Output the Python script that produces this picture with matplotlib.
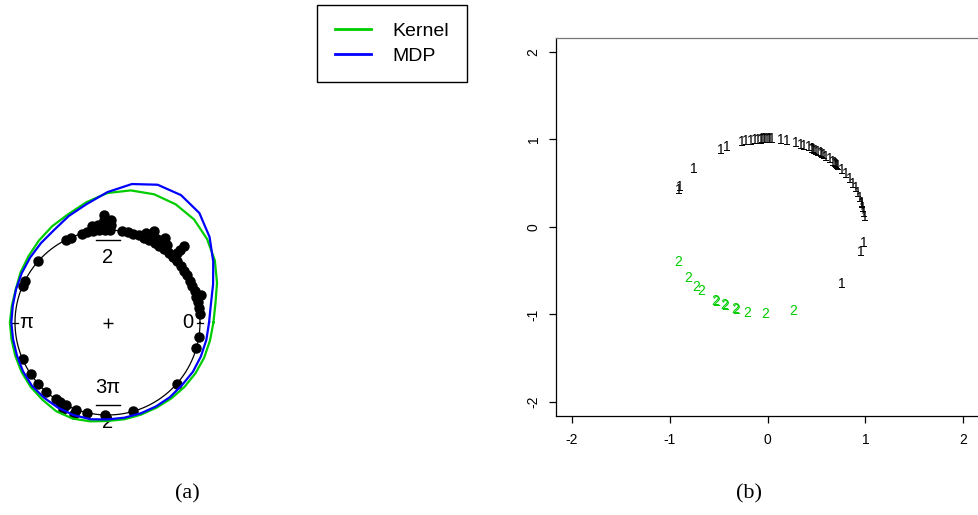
import numpy as np
import matplotlib.pyplot as plt
from matplotlib.lines import Line2D

plt.rcParams["font.family"] = ["Liberation Sans", "DejaVu Sans"]

cluster1_deg = [153, 155, 138.8, 118.2, 114.4, 105, 102.6, 100, 97.5, 95.8,
                94.2, 93.5, 92.2, 91.5, 90.6, 89.5, 88.6, 87.5, 82.3, 78.4,
                73, 70, 68, 65, 63.3, 62.5, 61.5, 60.5, 59.3, 57, 56, 55.1,
                53.4, 50.6, 48, 46.5, 45.6, 45, 43.8, 40.7, 37, 33.3, 29.6,
                26, 22.4, 19, 15.6, 15, 12.2, 9, 6.5, -10.5, -17, -41]
cluster2_deg = [204, 215.5, 223, 227, 237.5, 238.5, 243.5, 244.5, 250.5,
                251.5, 258, 268.5, 285]

# density curves of panel (a): radius at each angle
curve_deg = [0, 10, 20, 30, 40, 50, 60, 70, 80, 90, 100, 110, 120, 130, 140,
             150, 160, 170, 180, 190, 200, 210, 220, 230, 240, 250, 260, 270,
             280, 290, 300, 310, 320, 330, 340, 350]
kernel_r = [1.145, 1.185, 1.26, 1.34, 1.405, 1.455, 1.475, 1.475, 1.45, 1.40,
            1.32, 1.245, 1.2, 1.155, 1.115, 1.085, 1.055, 1.05, 1.055,
            1.054, 1.06, 1.072, 1.084, 1.092, 1.108, 1.105, 1.085, 1.065,
            1.062, 1.06, 1.062, 1.072, 1.085, 1.098, 1.112, 1.125]
mdp_r = [1.098, 1.135, 1.215, 1.32, 1.44, 1.545, 1.59, 1.585, 1.52, 1.41,
         1.30, 1.225, 1.155, 1.12, 1.092, 1.07, 1.052, 1.04, 1.04, 1.037,
         1.042, 1.055, 1.066, 1.064, 1.065, 1.066, 1.062, 1.048, 1.045, 1.046,
         1.048, 1.052, 1.052, 1.066, 1.074, 1.085]

axis_ticks = [-2, -1, 0, 1, 2]

GREEN = "#00CD00"
BLUE = "#0000FF"
W, H = 979, 515


def polar_xy(deg, r):
    t = np.radians(np.asarray(deg, dtype=float))
    return np.asarray(r) * np.cos(t), np.asarray(r) * np.sin(t)


def stacked_points(deg, bins=100, step=0.055):
    # bin the directions and pile repeated bins outward, like a stacked circular plot
    arc = 360.0 / bins
    counts = {}
    angs, rads = [], []
    for a in sorted(np.mod(deg, 360)):
        b = int(a // arc)
        k = counts.get(b, 0)
        counts[b] = k + 1
        angs.append((b + 0.5) * arc)
        rads.append(1 + k * step)
    return polar_xy(angs, rads)


def closed_curve(deg, r):
    x, y = polar_xy(deg, r)
    return np.append(x, x[0]), np.append(y, y[0])


fig = plt.figure(figsize=(W / 100, H / 100), dpi=100)

# ---------- panel (a): circular plot ----------
cx, cy, R = 107.5, 322.5, 92.5
left, right, top, bottom = 0, 300, 100, 480
ax_a = fig.add_axes([left / W, 1 - bottom / H, (right - left) / W, (bottom - top) / H])
ax_a.set_xlim((left - cx) / R, (right - cx) / R)
ax_a.set_ylim((cy - bottom) / R, (cy - top) / R)
ax_a.axis("off")

t = np.linspace(0, 2 * np.pi, 400)
ax_a.plot(np.cos(t), np.sin(t), color="black", lw=0.9, zorder=1)
for a in [0, 90, 180, 270]:
    tx, ty = polar_xy([a, a], [0.97, 1.03])
    ax_a.plot(tx, ty, color="black", lw=0.9, zorder=1)
ax_a.plot(0, 0, marker="+", ms=7, mew=1, color="black", zorder=1)

lab_kw = dict(fontsize=14.5, ha="center", va="center", zorder=2)
ax_a.text(0.87, 0, "0", **lab_kw)
ax_a.text(-0.88, 0, "π", **lab_kw)
for sign, num in [(1, "π"), (-1, "3π")]:
    yc = sign * 0.89
    ax_a.text(0.005, yc + 0.19, num, **lab_kw)
    ax_a.text(0.005, yc - 0.19, "2", **lab_kw)
    ax_a.plot([-0.12, 0.13], [yc, yc], color="black", lw=1, zorder=2)

px, py = stacked_points(cluster1_deg + cluster2_deg)
ax_a.plot(px, py, "o", color="black", ms=6.5, zorder=3)

kx, ky = closed_curve(curve_deg, kernel_r)
mx, my = closed_curve(curve_deg, mdp_r)
ax_a.plot(kx, ky, color=GREEN, lw=1.6, zorder=4)
ax_a.plot(mx, my, color=BLUE, lw=1.6, zorder=5)

handles = [Line2D([], [], color=GREEN, lw=2), Line2D([], [], color=BLUE, lw=2)]
leg = fig.legend(handles, ["Kernel", "MDP"], loc="upper left",
                 bbox_to_anchor=(317 / W, 1 - 5 / H), fontsize=14,
                 frameon=True, fancybox=False, framealpha=1, edgecolor="black",
                 borderpad=0.9, labelspacing=0.36, handlelength=1.9,
                 handletextpad=1.1, borderaxespad=0)
leg.get_frame().set_linewidth(1)

# ---------- panel (b): cluster labels ----------
bl, br, bt, bb = 556, 979, 37.7, 416
ax_b = fig.add_axes([bl / W, 1 - bb / H, (br - bl) / W, (bb - bt) / H])
ax_b.set_xlim(-2.16, 2.16)
ax_b.set_ylim(-2.16, 2.16)

x1, y1 = polar_xy(cluster1_deg, np.ones(len(cluster1_deg)))
x2, y2 = polar_xy(cluster2_deg, np.ones(len(cluster2_deg)))
for x, y in zip(x1, y1):
    ax_b.text(x, y, "1", fontsize=10, color="black", ha="center", va="center")
for x, y in zip(x2, y2):
    ax_b.text(x, y, "2", fontsize=10, color=GREEN, ha="center", va="center")

ax_b.set_xticks(axis_ticks)
ax_b.set_yticks(axis_ticks)
ax_b.set_xticklabels([str(v) for v in axis_ticks])
ax_b.set_yticklabels([str(v) for v in axis_ticks], rotation=90, va="center")
ax_b.tick_params(direction="out", length=5, width=0.9, labelsize=10)
ax_b.tick_params(axis="x", pad=7)
ax_b.tick_params(axis="y", pad=6)
ax_b.spines["right"].set_visible(False)
ax_b.spines["top"].set_color("#777777")
for s in ["left", "bottom", "top"]:
    ax_b.spines[s].set_linewidth(0.9)

cap_kw = dict(fontsize=16, family=["Liberation Serif", "DejaVu Serif"],
              ha="center", va="center")
fig.text(187 / W, 1 - 494 / H, "(a)", **cap_kw)
fig.text(749 / W, 1 - 494 / H, "(b)", **cap_kw)

fig.savefig("out.png", dpi=100)
